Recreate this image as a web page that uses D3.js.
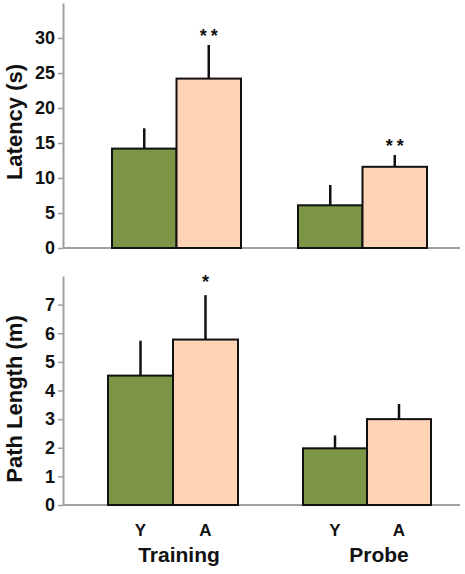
<!DOCTYPE html>
<html><head><meta charset="utf-8">
<script src="https://cdn.jsdelivr.net/npm/d3@7"></script>
<style>body{margin:0;background:#fff}svg{font-family:"Liberation Sans",Arial,sans-serif}</style>
</head><body>
<script>
const groups = ["Training", "Probe"];
const conditions = ["Y", "A"];
// Latency (s)
const latencyMean = [[14.2, 24.2], [6.1, 11.6]];
const latencyErr  = [[2.9, 4.8], [2.9, 1.7]];
const latencySig  = [["", "**"], ["", "**"]];
const latencyTicks = [0, 5, 10, 15, 20, 25, 30];
// Path length (m)
const pathMean = [[4.52, 5.78], [1.98, 3.0]];
const pathErr  = [[1.22, 1.55], [0.45, 0.53]];
const pathSig  = [["", "*"], ["", ""]];
const pathTicks = [0, 1, 2, 3, 4, 5, 6, 7];

const colors = {Y: "#7b9446", A: "#ffd3b5"};

const svg = d3.select("body").append("svg").attr("width", 465).attr("height", 574);

function panel(cfg) {
  const y = d3.scaleLinear().domain(cfg.domain).range([cfg.y0, cfg.y1]);
  const g = svg.append("g");
  const ax = g.append("g").attr("transform", `translate(63,0)`)
    .call(d3.axisLeft(y).tickValues(cfg.ticks).tickSize(5).tickSizeOuter(0).tickPadding(3));
  ax.select(".domain").attr("stroke", "#a0a0a0").attr("stroke-width", 2);
  ax.selectAll(".tick line").attr("stroke", "#a0a0a0").attr("stroke-width", 1.5);
  ax.selectAll(".tick text")
    .style("font-size", "18px").style("font-weight", "bold")
    .style("font-family", "'Liberation Sans', Arial, sans-serif").attr("fill", "#111");
  g.append("line").attr("x1", 63).attr("x2", 460).attr("y1", y(0)).attr("y2", y(0))
    .attr("stroke", "#a0a0a0").attr("stroke-width", 2);
  groups.forEach((grp, gi) => {
    const x = d3.scaleBand().domain(conditions).range(cfg.groupRanges[gi]).padding(0);
    conditions.forEach((c, ci) => {
      const v = cfg.mean[gi][ci], e = cfg.err[gi][ci];
      const cx = x(c) + x.bandwidth() / 2;
      g.append("line").attr("x1", cx).attr("x2", cx).attr("y1", y(v)).attr("y2", y(v + e))
        .attr("stroke", "#111").attr("stroke-width", 2.5);
      g.append("rect").attr("x", x(c)).attr("y", y(v)).attr("width", x.bandwidth())
        .attr("height", y(0) - y(v)).attr("fill", colors[c]).attr("stroke", "#111").attr("stroke-width", 2);
      const s = cfg.sig[gi][ci];
      if (s) g.append("text").attr("x", cx + (s.length > 1 ? 2 : 0)).attr("y", y(v + e) - cfg.starGap)
        .attr("text-anchor", "middle").style("font-size", "18px").style("font-weight", "bold").attr("fill", "#111")
        .attr("letter-spacing", s.length > 1 ? 4 : 0).text(s);
      if (cfg.xLabels) g.append("text").attr("x", cx).attr("y", y(0) + 31).attr("text-anchor", "middle")
        .style("font-size", "17px").style("font-weight", "bold").attr("fill", "#111").text(c);
    });
    if (cfg.xLabels) g.append("text").attr("x", cfg.groupLabelX[gi]).attr("y", y(0) + 57)
      .attr("text-anchor", "middle").style("font-size", "21px").style("font-weight", "bold").attr("fill", "#111").text(grp);
  });
  g.append("text").attr("transform", `translate(${cfg.titleX},${cfg.titleY}) rotate(-90)`)
    .attr("text-anchor", "middle").style("font-size", "22px").style("font-weight", "bold")
    .attr("fill", "#111").text(cfg.title);
}

panel({domain: [0, 35], y0: 248, y1: 3, ticks: latencyTicks, mean: latencyMean, err: latencyErr, sig: latencySig,
  groupRanges: [[112, 241], [298, 427]], title: "Latency (s)", titleX: 22, titleY: 122, xLabels: false, starGap: 3});
panel({domain: [0, 8], y0: 505, y1: 276, ticks: pathTicks, mean: pathMean, err: pathErr, sig: pathSig,
  groupRanges: [[108, 238], [303, 431]], title: "Path Length (m)", titleX: 22, titleY: 399, xLabels: true,
  groupLabelX: [179, 379], starGap: 7});
</script>
</body></html>
